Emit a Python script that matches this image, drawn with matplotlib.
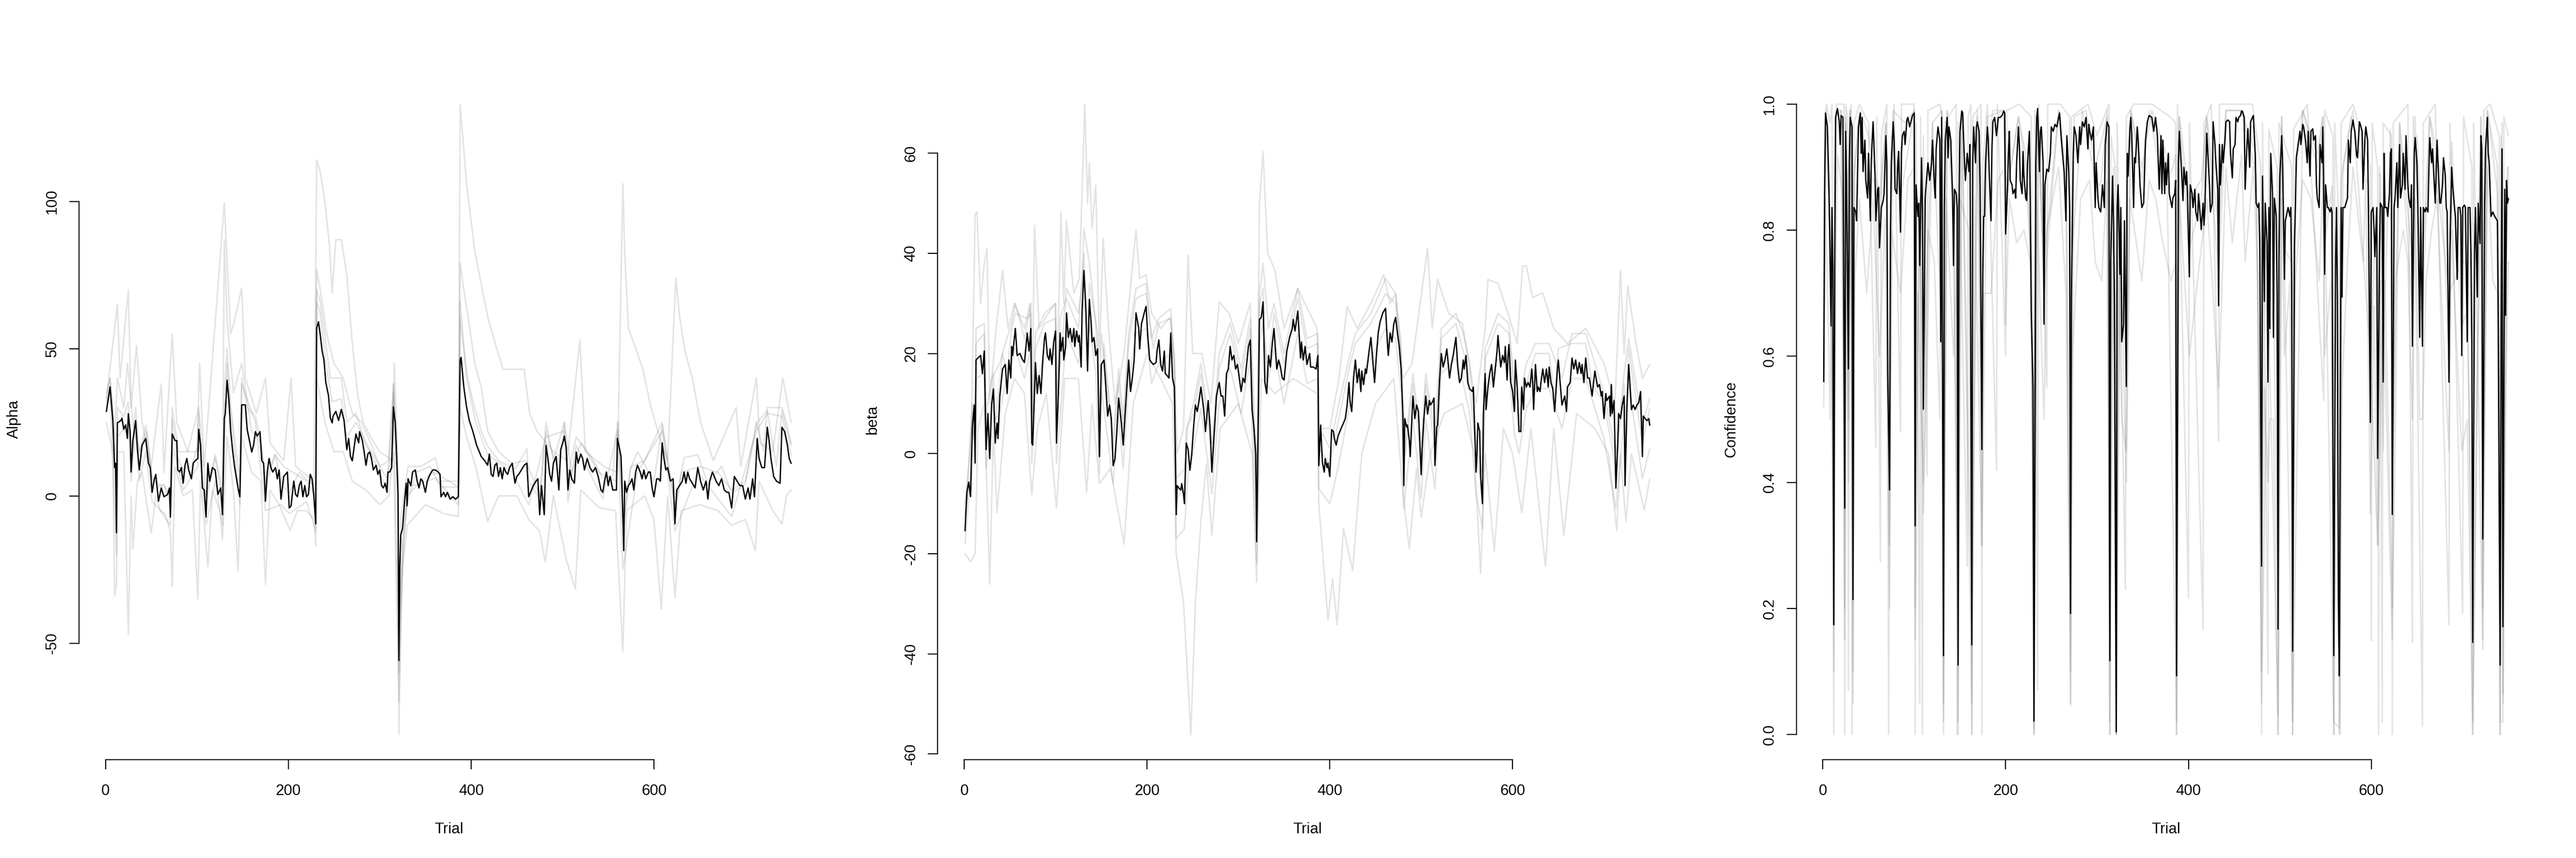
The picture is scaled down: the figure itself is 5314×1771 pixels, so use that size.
import matplotlib
matplotlib.use("Agg")
import matplotlib.pyplot as plt
from matplotlib.transforms import offset_copy

plt.rcParams['font.family'] = ['Liberation Sans', 'DejaVu Sans']

# ---------------- data ----------------
TRIAL_FIRST, TRIAL_LAST = 1, 750
X_TICKS = [0, 200, 400, 600]
X_LABEL = "Trial"

ALPHA_LABEL = "Alpha"
ALPHA_TICKS = [-50, 0, 50, 100]
ALPHA_MEAN = [(1,28.7),(5,37.0),(8,25.6),(10,9.6),(11,11.1),(12,-12.5),(13,24.8),(17,25.6),(18,26.4),(20,22.6),(22,24.1),(24,19.5),(25,27.9),(27,21.8),(28,8.1),(30,18.8),(33,25.6),(35,15.7),(37,8.8),(40,17.2),(44,19.5),(47,11.1),(49,9.6),(51,1.2),(53,5.0),(55,7.3),(58,-1.8),(61,2.7),(64,-0.3),(68,0.5),(70,2.7),(71,-7.2),(73,21.0),(76,18.8),(78,18.8),(79,8.8),(81,8.1),(83,9.6),(85,4.3),(87,10.4),(89,12.7),(91,8.8),(94,5.8),(96,11.1),(98,11.9),(101,12.7),(102,22.6),(104,17.2),(106,2.7),(108,2.0),(110,-7.2),(112,11.1),(114,5.0),(117,9.6),(120,8.8),(123,0.5),(126,2.7),(128,-6.4),(130,26.4),(131,27.9),(133,39.3),(135,32.5),(137,21.8),(139,15.7),(141,10.4),(143,6.6),(145,2.7),(147,-0.3),(149,30.9),(153,30.9),(155,22.6),(158,18.0),(160,14.9),(162,17.2),(164,21.8),(166,20.3),(169,21.8),(171,11.9),(173,11.1),(175,-1.8),(177,8.1),(179,12.7),(181,9.6),(183,8.1),(186,9.6),(188,5.8),(190,8.8),(192,-1.1),(195,6.6),(199,8.1),(201,-4.1),(203,-3.4),(206,5.0),(208,0.5),(210,-0.3),(212,3.5),(214,5.0),(216,-0.3),(218,3.5),(220,-0.3),(222,0.5),(224,7.3),(226,5.8),(228,-0.3),(230,-9.5),(231,56.9),(233,59.1),(235,54.6),(237,49.2),(239,46.2),(241,38.6),(244,34.0),(246,26.4),(248,24.8),(249,27.1),(252,28.7),(255,25.6),(258,29.4),(261,25.6),(264,15.7),(266,19.5),(268,13.4),(270,11.9),(271,14.2),(274,21.0),(277,18.0),(278,21.8),(281,18.8),(283,14.9),(285,10.4),(287,14.2),(289,14.9),(291,12.7),(293,8.8),(296,10.4),(298,7.3),(300,8.8),(302,3.5),(304,2.7),(306,4.3),(308,1.2),(309,8.1),(311,8.1),(313,9.6),(315,30.2),(317,24.8),(318,17.2),(320,0.5),(321,-55.9),(322,-24.0),(323,-13.3),(325,-11.0),(327,-2.6),(329,4.3),(330,-3.4),(331,5.8),(334,3.5),(336,8.1),(339,8.8),(341,5.0),(343,2.7),(345,5.8),(347,5.0),(350,1.2),(352,5.0),(355,7.3),(358,8.8),(361,8.8),(364,8.1),(366,7.3),(367,-0.3),(370,1.2),(372,-0.3),(374,1.2),(377,-1.1),(380,-0.3),(383,-1.1),(386,-0.3),(388,46.2),(389,47.0),(392,37.0),(395,30.2),(398,25.6),(402,21.8),(406,17.2),(411,13.4),(415,11.9),(418,10.4),(420,14.2),(422,7.3),(424,6.6),(426,10.4),(428,11.1),(430,6.6),(432,9.6),(434,5.8),(436,9.6),(438,8.1),(440,7.3),(442,9.6),(445,11.1),(448,4.3),(450,6.6),(452,7.3),(455,8.8),(458,10.4),(461,11.1),(463,-0.3),(465,1.2),(468,3.5),(471,5.0),(473,5.8),(475,-6.4),(477,3.5),(480,-6.4),(482,17.2),(484,12.7),(486,7.3),(488,5.0),(490,11.1),(493,13.4),(496,2.0),(498,15.7),(501,18.8),(502,20.3),(504,16.5),(506,2.0),(508,8.8),(510,5.8),(513,4.3),(515,14.9),(517,11.1),(520,14.2),(522,12.7),(524,8.8),(527,12.7),(530,9.6),(533,8.1),(536,9.6),(539,6.6),(542,2.0),(544,1.2),(546,5.0),(548,8.1),(550,3.5),(552,6.6),(555,2.0),(559,2.0),(560,19.5),(562,16.5),(564,13.4),(565,4.3),(567,-18.6),(568,5.0),(570,1.2),(572,3.5),(574,4.3),(576,5.8),(578,2.0),(580,8.1),(582,10.4),(585,8.1),(587,5.8),(589,8.8),(591,5.8),(594,8.1),(596,8.1),(598,2.7),(600,-0.3),(603,5.8),(605,5.8),(607,5.0),(609,18.0),(611,12.7),(613,8.8),(615,9.6),(618,5.0),(621,5.8),(623,-9.5),(625,2.0),(628,3.5),(631,5.0),(633,8.1),(635,4.3),(637,8.1),(639,5.8),(642,4.3),(645,2.7),(648,9.6),(651,5.0),(654,2.0),(657,5.0),(659,-1.1),(661,5.0),(664,8.1),(666,6.6),(668,5.0),(671,3.5),(674,5.8),(677,2.0),(680,1.2),(682,1.2),(685,-4.1),(688,6.6),(691,5.0),(694,3.5),(697,3.5),(700,-1.1),(703,2.7),(705,-1.1),(708,5.8),(710,-0.3),(713,19.5),(715,12.7),(718,9.6),(721,9.6),(724,23.3),(726,18.8),(728,12.7),(731,6.6),(734,5.0),(738,4.3),(740,23.3),(743,21.8),(746,17.2),(748,12.7),(750,11.1)]
alpha_rep_a = [(1,33),(13,65),(16,40),(25,70),(28,30),(34,51),(40,25),(50,10),(61,38),(64,8),(73,55),(78,25),(90,15),(100,15),(103,45),(108,10),(130,99.5),(133,80),(137,55),(140,58),(149,70.6),(153,40),(165,28),(175,40),(180,18),(195,12),(203,40),(208,10),(228,5),(231,114),(235,110),(240,100),(245,85),(248,69),(252,87),(258,87),(264,75),(270,52),(276,34),(282,25),(290,20),(300,15),(314,12),(316,45),(320,10),(321,-40),(330,0),(345,5),(360,8),(386,3),(388,133),(395,106),(404,83),(411,72),(418,61),(427,51),(435,43),(447,43),(458,43),(464,28),(472,22),(490,15),(505,12),(519,53),(525,15),(545,10),(560,8),(566,106),(568,83),(572,57),(579,51),(588,43),(596,31),(608,18),(615,12),(624,74),(628,61),(634,49),(642,40),(651,25),(665,12),(690,30),(695,10),(712,40),(716,18),(730,15),(741,40),(750,25)]
alpha_rep_b = [(1,35),(5,40),(10,20),(13,40),(20,30),(24,45),(30,25),(37,15),(45,22),(51,6),(58,4),(65,3),(71,0),(73,30),(80,15),(90,15),(102,30),(110,0),(120,14),(128,2),(130,87),(133,60),(140,35),(149,45),(160,22),(170,18),(175,5),(185,14),(195,10),(205,8),(220,5),(230,0),(231,77),(235,70),(242,55),(250,45),(260,40),(270,28),(280,25),(290,18),(300,10),(310,12),(315,38),(320,5),(321,-81),(323,-40),(326,-15),(330,-2),(340,8),(355,10),(367,3),(386,3),(388,79),(392,70),(398,58),(404,45),(411,37),(418,22),(430,15),(445,11),(460,12),(475,0),(482,25),(490,12),(502,25),(510,8),(520,18),(540,8),(558,5),(561,25),(566,-10),(575,10),(590,12),(609,25),(615,12),(624,-5),(630,8),(650,10),(670,8),(685,2),(700,5),(712,25),(720,15),(724,30),(740,30),(745,25),(750,18)]
alpha_rep_c = [(1,25),(8,15),(10,-34),(12,-30),(14,15),(20,15),(25,-47),(28,0),(30,-18),(35,5),(40,8),(50,-12.5),(55,0),(60,-5),(65,-6),(71,-12),(73,-30.8),(76,10),(85,0),(95,2),(101,-35),(104,5),(112,-24),(117,2),(125,-5),(128,-15),(133,20),(140,2),(145,-25.5),(149,20),(160,8),(170,5),(175,-30),(180,2),(190,-3),(202,-11.7),(210,-5),(220,-5),(228,-8),(230,-17),(231,40),(240,25),(250,15),(260,15),(270,5),(285,2),(300,-3),(310,0),(315,15),(321,-70),(325,-25),(330,-10),(350,-3),(370,-6),(386,-7),(388,30),(395,20),(405,10),(418,-8.7),(430,0),(450,0),(463,-8),(475,-12),(481,-22.4),(490,0),(504,-21.6),(514,-31.6),(520,2),(540,-4),(558,-5),(566,-53),(570,-5),(590,0),(600,-8),(608,-38.4),(615,0),(623,-34.6),(630,-5),(650,-3),(670,-5),(685,-10),(700,-8),(711,-18.6),(715,5),(730,-5),(740,-9.5),(745,0),(750,2)]
alpha_rep_d = [(1,30),(5,35),(12,-20),(13,20),(25,25),(28,5),(33,22),(37,5),(44,15),(51,-2),(58,-4),(71,-10),(73,18),(85,2),(101,10),(102,20),(110,-10),(120,5),(128,-10),(133,45),(137,28),(147,-3),(149,38),(164,25),(175,-5),(192,-3),(201,-6),(220,-2),(230,-12),(231,66),(235,62),(241,45),(248,32),(258,33),(264,20),(274,25),(290,15),(302,6),(308,3),(315,35),(321,-60),(325,-14),(331,3),(361,6),(386,-3),(388,66),(395,40),(405,25),(418,14),(445,8),(463,-3),(482,20),(502,22),(506,-2),(515,17),(544,-1),(560,22),(566,-25),(582,8),(609,22),(623,-12),(648,8),(685,-7),(712,22),(724,28),(740,27),(750,14)]
alpha_rep_e = [(1,32),(5,40),(8,30),(10,15),(12,-5),(13,30),(20,27),(25,32),(28,14),(33,30),(37,14),(44,24),(51,6),(58,3),(64,4),(71,-3),(73,26),(79,13),(85,9),(94,10),(101,17),(102,28),(106,7),(110,-2),(120,13),(128,-1),(130,35),(133,50),(137,30),(147,5),(149,40),(155,30),(164,27),(171,17),(175,3),(186,14),(192,4),(201,1),(212,8),(222,5),(228,4),(230,-5),(231,70),(235,66),(241,52),(246,40),(252,40),(258,40),(264,25),(274,28),(285,17),(293,14),(302,9),(308,6),(313,14),(315,38),(320,5),(321,-45),(323,-8),(327,2),(331,10),(345,10),(361,13),(367,5),(386,5),(388,60),(395,42),(402,32),(411,22),(418,17),(430,12),(448,9),(461,16),(463,5),(475,-1),(482,22),(496,7),(502,25),(506,7),(515,20),(530,14),(544,6),(555,7),(560,25),(567,-10),(574,9),(582,15),(600,5),(609,24),(623,-4),(633,13),(648,14),(659,4),(674,10),(685,1),(700,4),(713,25),(724,29),(734,10),(740,29),(750,17)]

BETA_LABEL = "beta"
BETA_TICKS = [-60, -40, -20, 0, 20, 40, 60]
BETA_MEAN = [(1,-15.4),(3,-7.7),(5,-5.7),(7,-8.6),(9,5.3),(11,9.7),(12,-1.9),(13,18.7),(15,19.1),(18,19.6),(20,16.0),(21,18.2),(22,20.5),(24,0.8),(26,8.0),(28,-1.0),(30,9.7),(32,12.9),(34,2.1),(36,6.1),(37,3.0),(39,11.5),(42,16.9),(45,17.8),(47,12.0),(49,18.7),(51,15.1),(52,21.4),(53,19.6),(56,25.0),(58,19.6),(61,20.0),(64,18.7),(66,18.2),(69,24.1),(71,20.5),(73,25.0),(74,2.1),(75,1.7),(78,18.2),(80,12.0),(82,15.6),(84,12.0),(86,18.7),(88,23.2),(89,24.1),(91,19.6),(93,18.7),(94,20.9),(96,17.8),(98,22.3),(100,24.5),(101,2.1),(103,11.5),(105,24.1),(106,20.5),(108,23.2),(109,18.7),(111,21.4),(112,28.1),(114,23.2),(116,25.0),(118,22.3),(120,25.0),(121,21.4),(123,24.5),(125,22.3),(126,23.6),(128,17.3),(129,28.5),(131,36.6),(133,29.4),(135,16.5),(137,30.8),(139,25.9),(140,22.3),(142,23.2),(144,19.6),(146,20.9),(148,-0.6),(150,17.8),(153,18.7),(155,13.3),(157,7.5),(159,9.7),(161,7.0),(163,-2.4),(165,-1.0),(167,4.4),(169,11.1),(172,6.1),(174,1.7),(176,7.5),(178,13.3),(180,18.7),(182,12.4),(184,15.1),(186,18.7),(188,28.1),(191,25.0),(192,20.9),(194,25.9),(197,28.1),(199,29.4),(201,23.2),(203,18.7),(205,18.2),(207,17.8),(210,18.2),(211,20.5),(213,22.7),(215,17.8),(217,16.5),(219,20.5),(220,16.0),(222,15.6),(224,15.1),(226,24.1),(228,15.1),(230,13.3),(232,-12.2),(233,-6.4),(235,-6.9),(237,-7.3),(238,-6.0),(240,-8.2),(241,-10.0),(243,2.1),(245,0.8),(247,-3.3),(249,-0.1),(251,5.3),(253,9.7),(255,8.4),(257,10.6),(259,13.3),(262,8.9),(264,4.4),(267,10.6),(269,5.3),(271,-3.7),(274,5.3),(276,11.5),(279,14.2),(281,11.5),(283,11.5),(285,7.5),(287,16.0),(289,16.9),(291,21.4),(293,18.7),(295,19.6),(297,16.9),(299,17.8),(301,15.1),(303,12.4),(305,15.1),(307,14.2),(309,17.8),(311,21.4),(313,22.7),(315,8.8),(317,5.3),(319,-0.1),(320,-17.6),(322,9.7),(323,26.8),(325,27.2),(327,30.3),(329,14.2),(331,12.0),(333,19.6),(335,17.3),(337,21.8),(339,25.0),(341,19.6),(342,16.9),(344,18.7),(346,17.3),(348,15.1),(350,14.7),(353,20.5),(356,23.2),(359,25.0),(360,26.8),(362,24.5),(365,28.5),(367,22.3),(368,19.1),(369,22.3),(371,18.7),(373,21.4),(375,17.8),(378,20.0),(379,17.3),(382,17.3),(385,16.9),(387,19.6),(388,-2.4),(390,5.7),(391,1.7),(392,-1.9),(394,-3.7),(395,-1.0),(397,-2.8),(398,-1.9),(400,-4.6),(402,4.8),(404,4.4),(405,3.0),(407,1.7),(409,3.5),(411,4.4),(413,5.3),(415,6.1),(417,7.0),(419,9.7),(421,14.2),(422,10.6),(424,8.4),(426,15.1),(428,18.7),(430,14.2),(432,16.9),(434,12.4),(435,16.5),(437,13.8),(439,16.9),(440,16.0),(443,20.5),(445,23.2),(447,18.7),(449,14.2),(451,19.6),(453,24.1),(455,26.3),(458,28.1),(461,29.0),(463,22.3),(464,19.6),(466,24.1),(468,22.3),(470,25.9),(472,27.2),(474,24.1),(476,21.4),(478,16.9),(480,7.9),(481,-6.4),(482,7.0),(484,5.3),(485,5.7),(487,2.6),(488,-0.6),(490,7.9),(491,11.5),(493,7.0),(495,9.7),(497,8.4),(500,-4.2),(501,0.8),(503,7.0),(505,11.5),(507,7.9),(509,10.6),(510,9.7),(512,10.2),(514,11.1),(515,-2.4),(517,5.3),(518,5.7),(520,14.2),(522,20.0),(524,17.3),(526,18.7),(528,20.9),(529,19.1),(531,15.1),(533,17.8),(535,19.6),(538,23.2),(540,17.3),(542,14.2),(544,15.1),(546,18.7),(547,16.9),(549,19.6),(551,14.2),(553,12.9),(556,12.4),(557,13.3),(560,-3.7),(561,-0.1),(562,6.1),(564,4.4),(565,-4.6),(567,-10.0),(568,7.9),(570,16.0),(571,8.8),(573,13.3),(575,16.0),(577,17.8),(579,13.3),(581,16.9),(583,20.5),(584,23.6),(585,21.4),(587,17.3),(589,19.6),(591,18.2),(592,21.4),(594,14.7),(595,19.6),(596,21.8),(598,14.2),(600,12.4),(602,8.4),(603,18.7),(605,13.3),(607,4.4),(609,4.4),(610,13.3),(612,8.8),(613,15.1),(615,13.3),(617,14.2),(619,13.3),(621,16.9),(622,14.2),(623,8.8),(625,17.8),(627,12.4),(628,13.3),(630,12.4),(631,14.2),(633,16.9),(635,14.2),(637,16.9),(639,13.3),(640,17.3),(642,14.2),(644,12.9),(646,8.4),(649,16.9),(650,18.7),(652,14.2),(654,9.7),(657,11.5),(659,8.4),(660,13.3),(663,14.2),(665,19.1),(667,16.9),(669,18.7),(671,16.0),(673,18.2),(675,16.0),(676,17.8),(678,14.2),(680,19.1),(682,15.1),(684,15.1),(687,11.5),(688,13.3),(690,16.5),(693,13.3),(695,13.8),(697,11.5),(698,12.4),(700,7.0),(702,12.0),(703,10.6),(706,11.5),(707,7.5),(708,13.8),(709,8.0),(711,10.6),(713,-6.9),(715,1.7),(716,8.0),(718,7.0),(720,9.7),(722,11.5),(723,-6.4),(725,8.8),(727,17.8),(728,15.1),(730,8.8),(732,9.7),(734,8.8),(736,9.7),(738,10.2),(740,12.4),(742,-0.6),(743,7.5),(745,7.0),(747,6.6),(749,7.0),(750,5.7)]
beta_rep_a = [(1,-12),(7,-5),(12,47.8),(14,48.3),(18,30),(22,38),(25,41),(28,10),(35,25),(42,36.6),(48,25),(55,30),(66,25),(72,30),(74,5),(77,45.6),(82,25),(92,28),(100,30),(101,10),(106,48.3),(109,30),(112,46.5),(120,32),(126,35),(132,69.8),(135,50),(137,58),(140,45),(144,53.6),(148,20),(152,43),(158,25),(165,10),(175,20),(188,44.7),(192,35),(199,35.7),(205,28),(215,25),(225,27.2),(230,20),(233,0),(240,5),(245,39.7),(250,20),(260,20),(270,10),(279,30.3),(290,28),(300,22),(313,30),(320,-5),(323,50),(327,60.3),(332,40),(340,36.6),(350,25),(365,33),(386,25),(388,5),(400,5),(410,15),(419,29.4),(430,25),(445,30),(459,35.7),(466,30),(472,32),(480,15),(490,18),(507,41),(512,25),(518,34.8),(530,28),(545,26),(560,10),(570,25),(573,34.8),(584,34),(595,28),(605,22),(611,37.5),(615,37.5),(622,31.2),(633,32.1),(645,25),(660,22),(680,25),(700,18),(712,10),(718,36.6),(722,20),(726,33.5),(735,22),(742,15),(750,17.8)]
beta_rep_b = [(1,-20),(7,-21.6),(12,-20),(15,5),(22,10),(28,-26.1),(32,5),(36,-11.8),(45,8),(55,15),(66,12),(74,-8.2),(80,5),(90,12),(101,-10.9),(110,15),(125,15),(134,-7.7),(140,10),(148,-6),(160,-3),(175,-18.1),(185,10),(200,20),(215,15),(228,10),(232,-20),(240,-29.7),(248,-56.1),(253,-29.7),(259,-13.6),(265,-2),(271,-16.3),(280,5),(300,10),(315,0),(320,-25.7),(325,15),(340,12),(360,15),(386,12),(388,-10),(398,-33.3),(403,-25),(408,-34.2),(415,-15),(425,-23.4),(435,0),(450,10),(470,15),(480,-8),(487,-19),(495,-3),(500,-12.7),(510,0),(525,8),(545,10),(558,0),(565,-23.9),(570,0),(580,-19.4),(590,5),(600,0),(610,-11.8),(620,5),(636,-22.5),(645,5),(656,-16.3),(670,8),(690,5),(705,0),(714,-15.4),(718,0),(724,-13.6),(730,0),(744,-11.3),(750,-5)]
beta_rep_c = [(1,-10),(5,-2),(9,10),(12,5),(13,25),(22,26),(24,8),(30,15),(39,18),(45,22),(52,26),(56,30),(66,23),(73,30),(74,8),(78,24),(88,28),(100,30),(101,8),(112,33),(125,28),(129,34),(131,45),(137,38),(144,26),(148,6),(150,24),(157,13),(163,3),(169,17),(174,7),(180,24),(188,33),(199,34),(205,23),(213,27),(226,29),(230,18),(232,-5),(241,-3),(245,6),(251,10),(259,18),(271,2),(279,20),(291,26),(303,17),(313,27),(315,14),(320,-10),(323,32),(327,38),(333,25),(339,30),(350,20),(365,33),(375,23),(387,24),(388,3),(392,4),(400,1),(410,10),(421,19),(428,24),(445,28),(461,35),(472,32),(478,22),(481,-1),(491,16),(500,2),(505,16),(515,4),(522,25),(538,28),(546,24),(553,18),(560,2),(567,-4),(570,21),(584,28),(596,26),(602,13),(607,10),(615,18),(625,22),(640,22),(654,15),(665,24),(680,24),(700,12),(713,0),(722,16),(727,23),(742,6),(750,11)]
beta_rep_d = [(1,-18),(5,-9),(9,2),(11,5),(13,15),(22,16),(24,-3),(30,6),(39,8),(45,14),(52,18),(56,21),(66,15),(73,21),(74,-2),(78,14),(88,19),(100,20),(101,-2),(112,24),(125,18),(129,24),(131,30),(137,26),(144,16),(148,-4),(150,13),(157,3),(163,-6),(169,8),(174,-3),(180,14),(188,24),(199,25),(205,14),(213,18),(226,20),(230,10),(232,-17),(241,-15),(245,-4),(251,1),(259,9),(271,-8),(279,10),(291,17),(303,8),(313,19),(315,4),(320,-22),(323,22),(327,26),(333,15),(339,21),(350,10),(365,24),(375,14),(387,15),(388,-7),(392,-8),(400,-10),(410,-2),(421,9),(428,14),(445,19),(461,25),(472,23),(478,12),(481,-11),(491,7),(500,-9),(505,7),(515,-7),(522,16),(538,19),(546,14),(553,8),(560,-8),(567,-15),(570,11),(584,19),(596,17),(602,4),(607,0),(615,9),(625,13),(640,13),(654,5),(665,15),(680,15),(700,3),(713,-11),(722,7),(727,14),(742,-5),(750,1)]
beta_rep_e = [(1,-13),(5,-3),(9,8),(12,1),(13,22),(22,24),(24,4),(28,3),(32,16),(34,6),(42,20),(47,16),(52,25),(56,28),(69,27),(73,28),(74,5),(78,21),(88,26),(100,27),(101,5),(105,27),(112,31),(125,25),(131,40),(135,20),(137,34),(146,24),(148,3),(153,22),(163,1),(169,14),(174,5),(180,22),(188,31),(199,32),(207,21),(213,26),(226,27),(230,16),(232,-9),(241,-7),(243,5),(251,8),(259,16),(271,0),(279,17),(291,24),(303,15),(313,25),(315,12),(320,-14),(323,30),(327,33),(331,15),(339,28),(350,18),(365,31),(375,21),(387,22),(388,1),(400,-2),(410,7),(421,17),(428,22),(445,26),(461,32),(472,30),(478,20),(481,-3),(491,14),(500,-1),(505,14),(515,1),(522,23),(538,26),(551,17),(560,0),(567,-7),(570,19),(584,26),(596,24),(602,11),(607,7),(612,12),(625,20),(640,20),(646,11),(650,21),(665,22),(680,22),(687,14),(700,10),(713,-3),(722,14),(723,-3),(727,21),(742,2),(750,9)]

CONF_LABEL = "Confidence"
CONF_TICKS = [0.0, 0.2, 0.4, 0.6, 0.8, 1.0]
CONF_TICK_LABELS = ["0.0", "0.2", "0.4", "0.6", "0.8", "1.0"]
CONF_MEAN = [(1,0.56),(2,0.865),(3,0.986),(5,0.964),(6,0.907),(7,0.843),(9,0.648),(10,0.836),(11,0.737),(12,0.174),(13,0.751),(14,0.979),(16,0.993),(18,0.972),(19,0.936),(20,0.982),(22,0.979),(24,0.359),(25,0.957),(26,0.872),(28,0.580),(29,0.907),(30,0.979),(32,0.964),(33,0.214),(34,0.836),(36,0.829),(37,0.815),(39,0.964),(41,0.986),(42,0.922),(43,0.979),(44,0.893),(46,0.943),(47,0.879),(49,0.851),(50,0.922),(52,0.815),(53,0.907),(54,0.943),(55,0.972),(57,0.893),(58,0.815),(60,0.865),(61,0.868),(62,0.772),(64,0.836),(66,0.847),(67,0.858),(69,0.950),(70,0.907),(71,0.573),(73,0.388),(74,0.794),(75,0.907),(77,0.972),(78,0.943),(79,0.865),(81,0.858),(82,0.907),(83,0.925),(85,0.797),(86,0.922),(87,0.950),(89,0.957),(90,0.936),(92,0.975),(93,0.979),(94,0.972),(95,0.964),(98,0.982),(100,0.986),(101,0.331),(102,0.872),(104,0.822),(105,0.843),(106,0.744),(108,0.915),(109,0.836),(110,0.516),(112,0.851),(113,0.872),(115,0.907),(117,0.879),(119,0.907),(120,0.943),(122,0.872),(123,0.851),(124,0.929),(126,0.964),(128,0.943),(129,0.623),(130,0.979),(132,0.125),(133,0.836),(134,0.943),(136,0.979),(137,0.915),(138,0.964),(140,0.943),(142,0.851),(143,0.744),(144,0.865),(146,0.858),(147,0.836),(148,0.110),(149,0.836),(150,0.957),(152,0.989),(153,0.986),(155,0.907),(156,0.879),(158,0.922),(160,0.893),(161,0.936),(163,0.142),(164,0.907),(165,0.964),(167,0.907),(168,0.964),(169,0.972),(171,0.957),(172,0.872),(174,0.452),(175,0.730),(176,0.822),(177,0.822),(178,0.907),(180,0.964),(181,0.943),(182,0.893),(184,0.815),(185,0.929),(186,0.972),(188,0.979),(190,0.950),(192,0.979),(194,0.979),(196,0.982),(198,0.989),(199,0.986),(200,0.794),(202,0.865),(203,0.922),(204,0.957),(205,0.879),(207,0.872),(208,0.858),(210,0.865),(211,0.851),(212,0.907),(214,0.964),(215,0.936),(216,0.879),(218,0.858),(219,0.925),(220,0.886),(222,0.851),(223,0.847),(224,0.907),(226,0.957),(227,0.836),(228,0.673),(230,0.552),(231,0.021),(233,0.907),(234,0.979),(235,0.993),(237,0.893),(238,0.957),(239,0.964),(241,0.907),(242,0.651),(243,0.872),(245,0.897),(247,0.893),(249,0.922),(250,0.964),(252,0.957),(254,0.968),(256,0.964),(258,0.979),(259,0.986),(261,0.943),(264,0.893),(266,0.815),(267,0.950),(269,0.893),(270,0.836),(271,0.192),(272,0.694),(274,0.922),(275,0.964),(277,0.950),(279,0.907),(281,0.964),(282,0.936),(284,0.972),(286,0.964),(288,0.979),(290,0.929),(291,0.968),(292,0.957),(294,0.943),(296,0.964),(298,0.836),(299,0.907),(301,0.851),(302,0.836),(304,0.829),(306,0.872),(308,0.836),(309,0.936),(311,0.972),(313,0.964),(314,0.117),(315,0.751),(317,0.886),(318,0.815),(319,0.694),(321,0.004),(322,0.836),(323,0.872),(325,0.730),(326,0.836),(327,0.623),(329,0.651),(330,0.815),(332,0.552),(333,0.922),(334,0.886),(336,0.964),(337,0.979),(338,0.950),(340,0.836),(341,0.915),(342,0.907),(344,0.964),(345,0.943),(347,0.872),(349,0.836),(351,0.843),(353,0.943),(355,0.972),(357,0.982),(360,0.979),(362,0.957),(364,0.979),(366,0.950),(367,0.907),(368,0.865),(370,0.950),(371,0.858),(372,0.943),(374,0.858),(375,0.907),(376,0.872),(378,0.922),(379,0.858),(381,0.843),(382,0.836),(383,0.851),(385,0.858),(386,0.879),(387,0.093),(389,0.907),(390,0.957),(392,0.907),(394,0.847),(395,0.900),(397,0.872),(398,0.893),(399,0.851),(401,0.726),(402,0.872),(404,0.858),(405,0.836),(407,0.865),(408,0.829),(410,0.815),(411,0.858),(413,0.822),(414,0.801),(416,0.843),(417,0.808),(418,0.836),(420,0.954),(421,0.929),(423,0.872),(424,0.829),(426,0.843),(427,0.972),(429,0.936),(430,0.907),(432,0.865),(433,0.680),(434,0.936),(435,0.872),(437,0.936),(438,0.907),(440,0.943),(441,0.972),(443,0.975),(445,0.972),(446,0.922),(448,0.883),(449,0.929),(451,0.936),(452,0.979),(454,0.972),(455,0.979),(457,0.982),(458,0.989),(459,0.989),(461,0.979),(462,0.865),(464,0.936),(465,0.961),(467,0.900),(468,0.972),(470,0.979),(471,0.982),(473,0.922),(474,0.843),(476,0.836),(477,0.843),(478,0.779),(480,0.267),(481,0.886),(483,0.687),(484,0.843),(486,0.779),(487,0.559),(488,0.836),(489,0.644),(490,0.922),(492,0.858),(493,0.630),(494,0.851),(496,0.822),(497,0.694),(498,0.167),(499,0.751),(500,0.886),(502,0.950),(503,0.907),(505,0.722),(506,0.815),(508,0.829),(509,0.836),(511,0.822),(512,0.836),(513,0.701),(514,0.132),(516,0.779),(517,0.836),(518,0.915),(520,0.936),(522,0.957),(523,0.936),(525,0.968),(526,0.964),(528,0.943),(530,0.907),(531,0.957),(533,0.886),(534,0.957),(536,0.961),(537,0.943),(539,0.950),(540,0.872),(541,0.851),(543,0.836),(544,0.936),(546,0.907),(547,0.964),(549,0.730),(550,0.872),(552,0.836),(553,0.836),(555,0.829),(556,0.836),(557,0.829),(559,0.125),(561,0.751),(562,0.836),(563,0.694),(564,0.210),(565,0.093),(567,0.836),(568,0.694),(569,0.836),(571,0.836),(574,0.851),(575,0.943),(577,0.907),(578,0.957),(580,0.975),(581,0.964),(582,0.957),(584,0.918),(585,0.915),(587,0.972),(588,0.968),(590,0.957),(591,0.865),(593,0.943),(594,0.964),(596,0.943),(597,0.822),(599,0.495),(600,0.829),(602,0.836),(603,0.801),(604,0.758),(606,0.836),(607,0.438),(609,0.765),(610,0.843),(612,0.836),(613,0.559),(614,0.922),(615,0.836),(617,0.836),(618,0.822),(620,0.858),(621,0.922),(622,0.929),(623,0.349),(625,0.836),(626,0.851),(628,0.907),(629,0.836),(631,0.936),(632,0.851),(634,0.872),(635,0.922),(637,0.865),(638,0.950),(640,0.872),(641,0.851),(643,0.836),(644,0.872),(645,0.616),(647,0.922),(648,0.947),(650,0.907),(651,0.836),(653,0.630),(654,0.836),(656,0.616),(657,0.836),(659,0.829),(660,0.836),(662,0.829),(663,0.893),(664,0.947),(666,0.907),(667,0.929),(669,0.872),(670,0.843),(672,0.943),(673,0.907),(675,0.843),(676,0.843),(678,0.872),(679,0.915),(681,0.886),(682,0.836),(683,0.829),(685,0.559),(686,0.765),(688,0.900),(689,0.872),(691,0.836),(692,0.822),(694,0.722),(695,0.836),(697,0.836),(698,0.822),(699,0.601),(700,0.836),(702,0.840),(703,0.836),(705,0.623),(706,0.836),(708,0.836),(709,0.765),(710,0.623),(711,0.146),(713,0.765),(714,0.836),(716,0.694),(717,0.843),(719,0.779),(720,0.950),(721,0.929),(722,0.310),(724,0.836),(725,0.929),(727,0.979),(728,0.922),(729,0.907),(731,0.822),(733,0.829),(735,0.822),(738,0.815),(739,0.644),(741,0.110),(742,0.623),(743,0.929),(744,0.171),(746,0.865),(747,0.665),(748,0.879),(749,0.843),(750,0.850)]
conf_rep_a = [(1,0.6),(2,0.95),(4,1.0),(8,0.97),(10,1.0),(12,0.3),(13,0.9),(15,1.0),(23,1.0),(24,0.0),(25,1.0),(27,0.98),(28,0.07),(29,0.98),(31,1.0),(32,0.0),(33,0.6),(34,0.97),(40,1.0),(50,0.97),(58,0.455),(59,0.98),(63,0.274),(64,0.95),(70,1.0),(72,0.0),(74,0.9),(78,1.0),(85,0.48),(86,1.0),(100,1.0),(101,0.0),(102,0.97),(106,0.05),(107,0.98),(109,0.0),(110,0.95),(114,0.41),(115,0.99),(128,1.0),(131,0.98),(132,0.0),(133,0.97),(146,1.0),(147,0.0),(148,0.97),(158,0.267),(159,0.98),(162,1.0),(163,0.0),(164,0.98),(173,1.0),(174,0.0),(175,0.9),(180,1.0),(190,0.42),(191,1.0),(200,0.6),(201,0.99),(215,1.0),(228,0.98),(230,0.3),(231,0.0),(232,0.99),(235,0.07),(236,1.0),(245,0.55),(246,1.0),(260,1.0),(270,0.98),(271,0.046),(272,0.98),(290,1.0),(300,0.95),(313,1.0),(314,0.0),(315,0.95),(320,0.9),(321,0.0),(322,0.97),(331,0.23),(332,0.98),(340,1.0),(360,1.0),(380,0.98),(386,0.97),(387,0.0),(388,1.0),(400,0.217),(401,0.97),(416,0.167),(417,0.97),(425,1.0),(433,0.466),(434,1.0),(460,1.0),(470,1.0),(479,0.9),(480,0.0),(481,0.97),(487,0.096),(488,0.96),(497,0.9),(498,0.0),(499,0.97),(513,0.9),(514,0.0),(515,0.96),(530,1.0),(548,0.53),(549,0.99),(558,0.95),(559,0.0),(560,0.97),(565,0.8),(566,0.0),(567,0.97),(580,1.0),(599,0.9),(600,0.149),(601,0.97),(607,0.9),(608,0.0),(609,0.9),(612,0.02),(613,0.97),(622,0.95),(623,0.0),(624,0.97),(640,1.0),(645,0.146),(646,0.98),(656,0.014),(657,0.97),(670,1.0),(685,0.174),(686,0.97),(700,0.192),(701,0.98),(710,0.9),(711,0.0),(712,0.97),(722,0.135),(723,0.99),(730,1.0),(740,0.95),(741,0.0),(742,0.95),(744,0.064),(745,0.98),(750,0.95)]
conf_rep_b = [(1,0.52),(3,0.85),(8,0.5),(10,0.75),(12,0.0),(13,0.6),(16,0.92),(22,0.85),(24,0.2),(26,0.75),(28,0.5),(30,0.9),(33,0.1),(35,0.72),(40,0.85),(48,0.7),(55,0.85),(62,0.6),(68,0.82),(71,0.45),(73,0.2),(75,0.8),(85,0.7),(93,0.88),(100,0.9),(101,0.2),(104,0.7),(110,0.4),(115,0.8),(122,0.75),(128,0.5),(130,0.9),(132,0.05),(135,0.85),(143,0.6),(146,0.75),(148,0.0),(150,0.85),(160,0.8),(163,0.0),(166,0.85),(174,0.3),(176,0.7),(184,0.7),(192,0.88),(199,0.9),(200,0.65),(204,0.85),(212,0.78),(220,0.8),(227,0.75),(230,0.4),(231,0.0),(234,0.85),(242,0.5),(245,0.8),(258,0.9),(266,0.7),(271,0.1),(273,0.6),(282,0.85),(292,0.88),(298,0.75),(305,0.72),(311,0.88),(314,0.0),(317,0.75),(319,0.55),(321,0.0),(323,0.75),(327,0.5),(332,0.45),(336,0.85),(349,0.72),(357,0.88),(364,0.85),(372,0.78),(381,0.72),(386,0.75),(387,0.0),(390,0.85),(401,0.6),(410,0.72),(420,0.85),(426,0.72),(433,0.55),(441,0.9),(448,0.78),(458,0.92),(462,0.75),(471,0.9),(476,0.72),(480,0.1),(483,0.55),(487,0.4),(489,0.5),(493,0.5),(498,0.0),(502,0.85),(505,0.6),(511,0.72),(514,0.0),(517,0.72),(525,0.88),(534,0.85),(543,0.72),(547,0.88),(549,0.6),(556,0.72),(559,0.0),(563,0.55),(565,0.0),(568,0.55),(574,0.75),(580,0.9),(591,0.75),(594,0.88),(599,0.35),(603,0.68),(607,0.3),(610,0.72),(613,0.45),(615,0.72),(623,0.2),(626,0.72),(635,0.8),(640,0.75),(645,0.5),(648,0.85),(653,0.5),(656,0.5),(660,0.72),(666,0.8),(672,0.85),(676,0.72),(685,0.45),(688,0.8),(694,0.6),(699,0.45),(705,0.5),(711,0.0),(716,0.58),(720,0.85),(722,0.2),(727,0.9),(733,0.72),(738,0.7),(741,0.0),(743,0.82),(744,0.05),(747,0.55),(750,0.75)]
conf_rep_c = [(1,0.58),(3,0.97),(9,0.75),(12,0.1),(14,0.98),(20,0.99),(24,0.15),(25,0.97),(28,0.4),(30,0.99),(33,0.05),(35,0.9),(41,0.99),(50,0.95),(62,0.85),(69,0.97),(73,0.3),(77,0.99),(90,0.97),(100,0.99),(101,0.15),(106,0.85),(110,0.35),(120,0.97),(130,0.99),(132,0.02),(136,0.99),(143,0.85),(148,0.02),(152,0.99),(163,0.05),(169,0.98),(174,0.3),(180,0.98),(198,0.99),(200,0.85),(214,0.98),(222,0.92),(228,0.75),(231,0.01),(235,0.99),(242,0.75),(258,0.99),(266,0.9),(271,0.05),(275,0.98),(288,0.99),(298,0.9),(311,0.98),(314,0.02),(318,0.9),(321,0.0),(325,0.85),(332,0.4),(337,0.99),(349,0.9),(360,0.99),(376,0.92),(387,0.02),(390,0.98),(401,0.85),(414,0.88),(420,0.98),(433,0.8),(441,0.99),(458,0.99),(474,0.92),(480,0.05),(487,0.7),(498,0.03),(502,0.98),(514,0.02),(525,0.99),(541,0.92),(547,0.98),(549,0.85),(559,0.02),(565,0.01),(569,0.9),(580,0.99),(599,0.6),(607,0.3),(613,0.7),(623,0.15),(631,0.97),(645,0.75),(650,0.95),(656,0.75),(664,0.98),(685,0.7),(699,0.75),(705,0.75),(711,0.02),(720,0.98),(722,0.15),(727,0.99),(738,0.9),(741,0.02),(744,0.02),(749,0.9)]
conf_rep_d = [(1,0.58),(3,0.99),(7,0.88),(9,0.7),(12,0.25),(14,0.99),(20,0.99),(24,0.45),(25,0.98),(28,0.65),(30,0.99),(33,0.3),(34,0.88),(39,0.98),(49,0.9),(58,0.87),(62,0.82),(69,0.97),(71,0.62),(73,0.45),(75,0.95),(85,0.85),(100,0.99),(101,0.4),(106,0.8),(110,0.58),(120,0.97),(129,0.68),(130,0.99),(132,0.2),(136,0.99),(143,0.8),(148,0.18),(152,0.99),(163,0.2),(169,0.99),(174,0.52),(176,0.87),(186,0.99),(198,0.99),(200,0.84),(214,0.98),(223,0.89),(228,0.72),(231,0.08),(235,0.99),(242,0.7),(258,0.99),(266,0.86),(271,0.25),(272,0.75),(284,0.99),(298,0.88),(304,0.87),(311,0.99),(314,0.18),(315,0.8),(319,0.74),(321,0.06),(325,0.78),(327,0.68),(332,0.6),(337,0.99),(349,0.88),(357,0.99),(368,0.9),(381,0.89),(386,0.92),(387,0.15),(390,0.98),(401,0.77),(414,0.85),(420,0.98),(433,0.73),(441,0.99),(458,0.99),(474,0.89),(480,0.33),(483,0.74),(487,0.61),(493,0.68),(498,0.23),(502,0.98),(505,0.77),(513,0.75),(514,0.19),(517,0.88),(525,0.99),(541,0.9),(547,0.98),(549,0.78),(557,0.87),(559,0.18),(561,0.8),(564,0.27),(565,0.15),(567,0.88),(578,0.98),(591,0.9),(597,0.87),(599,0.55),(604,0.8),(607,0.5),(610,0.89),(613,0.61),(621,0.96),(623,0.41),(631,0.97),(645,0.67),(648,0.98),(653,0.68),(656,0.67),(664,0.98),(676,0.89),(685,0.61),(688,0.94),(694,0.77),(699,0.65),(705,0.67),(711,0.2),(713,0.81),(716,0.74),(720,0.98),(722,0.36),(727,0.99),(738,0.86),(739,0.7),(741,0.16),(743,0.97),(744,0.22),(747,0.71),(750,0.9)]

PANELS = [
    dict(label=ALPHA_LABEL, ticks=ALPHA_TICKS, ticklabels=[str(t) for t in ALPHA_TICKS],
         mean=ALPHA_MEAN, reps=[alpha_rep_a, alpha_rep_b, alpha_rep_c, alpha_rep_d, alpha_rep_e]),
    dict(label=BETA_LABEL, ticks=BETA_TICKS, ticklabels=[str(t) for t in BETA_TICKS],
         mean=BETA_MEAN, reps=[beta_rep_a, beta_rep_b, beta_rep_c, beta_rep_d, beta_rep_e]),
    dict(label=CONF_LABEL, ticks=CONF_TICKS, ticklabels=CONF_TICK_LABELS,
         mean=CONF_MEAN, reps=[conf_rep_a, conf_rep_b, conf_rep_c, conf_rep_d]),
]

# ---------------- layout ----------------
W, H, DPI = 5314, 1771, 200
MAR_L, MAR_R, MAR_T, MAR_B = 163, 83, 163, 203
FONT = 11.2
AX_LW = 0.8
MEAN_LW = 1.0
REP_LW = 1.1
GRAY = (0.45, 0.45, 0.45)

fig = plt.figure(figsize=(W / DPI, H / DPI), dpi=DPI)
fig.patch.set_facecolor("white")
pw = W / 3.0

span = TRIAL_LAST - TRIAL_FIRST
xlim = (TRIAL_FIRST - 0.04 * span, TRIAL_LAST + 0.04 * span)

for i, p in enumerate(PANELS):
    ax = fig.add_axes([(i * pw + MAR_L) / W, MAR_B / H,
                       (pw - MAR_L - MAR_R) / W, (H - MAR_B - MAR_T) / H])
    allv = []
    for rep in p["reps"]:
        t = [a for a, b in rep]
        v = [b for a, b in rep]
        allv += v
        ax.plot(t, v, color=GRAY, alpha=0.2, lw=REP_LW, zorder=1)
    t = [a for a, b in p["mean"]]
    v = [b for a, b in p["mean"]]
    allv += v
    ax.plot(t, v, color="black", lw=MEAN_LW, zorder=3)

    lo, hi = min(allv), max(allv)
    r = hi - lo
    ax.set_ylim(lo - 0.04 * r, hi + 0.04 * r)
    ax.set_xlim(*xlim)

    for s in ("top", "right"):
        ax.spines[s].set_visible(False)
    ax.spines["left"].set_bounds(p["ticks"][0], p["ticks"][-1])
    ax.spines["bottom"].set_bounds(X_TICKS[0], X_TICKS[-1])
    for s in ("left", "bottom"):
        ax.spines[s].set_linewidth(AX_LW)
    ax.set_xticks(X_TICKS)
    ax.set_yticks(p["ticks"])
    ax.tick_params(direction="out", length=7.2, width=AX_LW, labelbottom=False,
                   labelleft=False, colors="black")
    ax.set_facecolor("none")

    xt = offset_copy(ax.get_xaxis_transform(), fig=fig, x=0, y=-73, units="dots")
    for tk in X_TICKS:
        ax.text(tk, 0, str(tk), transform=xt, ha="center", va="baseline",
                fontsize=FONT)
    yt = offset_copy(ax.get_yaxis_transform(), fig=fig, x=-47, y=0, units="dots")
    for tk, lab in zip(p["ticks"], p["ticklabels"]):
        ax.text(0, tk, lab, transform=yt, rotation=90, rotation_mode="anchor",
                ha="center", va="baseline", fontsize=FONT)
    xl = offset_copy(ax.transAxes, fig=fig, x=0, y=-152, units="dots")
    ax.text(0.5, 0, X_LABEL, transform=xl, ha="center", va="baseline", fontsize=FONT)
    yl = offset_copy(ax.transAxes, fig=fig, x=-126, y=0, units="dots")
    ax.text(0, 0.5, p["label"], transform=yl, rotation=90, rotation_mode="anchor",
            ha="center", va="baseline", fontsize=FONT)

fig.savefig("out.png", dpi=DPI, facecolor="white")
